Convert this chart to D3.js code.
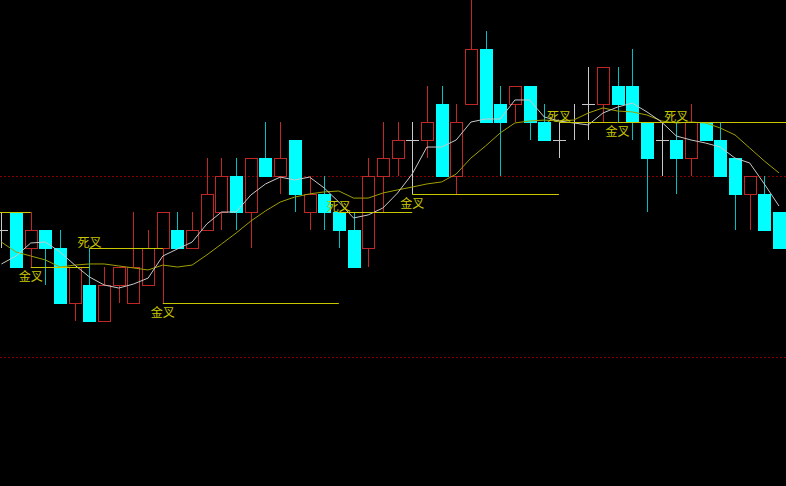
<!DOCTYPE html>
<html><head><meta charset="utf-8">
<script src="https://cdn.jsdelivr.net/npm/d3@7"></script>
<style>html,body{margin:0;padding:0;background:#000;overflow:hidden}</style>
</head><body><svg id="c" width="786" height="486"></svg>
<script>
// ---- data ----
const opens  = [27,28,26,27,26,23,24,22,24,23,24,26,27,26,27,28,30,28,31,30,32,28,29,28,27,26,30,31,32,32,34,30,34,37,34,34,35,33,32,33,34,34,35,35,33,32,32,31,33,32,31,29,29,28];
const closes = [27,25,27,26,23,25,22,24,25,25,26,28,26,27,29,30,28,31,30,31,29,29,28,27,25,30,31,32,32,33,30,33,37,33,33,35,33,32,32,33,34,36,34,33,31,32,31,33,32,30,29,30,27,26];
const highs  = [28,28,28,27,27,25,26,25,25,28,27,28,28,28,31,31,31,31,33,33,32,30,30,28,28,31,33,33,33,35,35,34,39.8,38,35,35,35,34,33,34,36,36,36,37,33,33,33,34,33,33,31,30,30,28];
const lows   = [26,25,25,24,23,22,22,22,23,23,24,23,26,26,27,27,27,26,30,29,28,27,27,26,25,25,28,30,29,31,30,29,34,33,30,33,32,32,31,32,32,33,33,32,28,30,29,30,32,30,27,27,27,26];
const ma5  = [25.14,25.58,26.30,26.35,25.80,25.08,24.42,23.98,23.81,24.03,24.36,25.58,25.97,26.35,27.35,28.01,28.01,28.95,29.56,29.94,29.78,29.94,29.34,28.56,27.68,27.85,28.23,29.06,30.11,31.60,31.60,31.99,32.98,33.15,33.15,34.20,34.20,33.26,33.04,32.93,32.82,33.48,33.81,34.03,33.54,32.98,32.21,31.99,31.82,31.60,30.99,30.72,29.56,28.34];
const ma10 = [26.35,25.80,25.58,25.36,24.97,25.08,25.14,25.14,25.03,24.92,24.81,25.08,24.97,25.08,25.64,26.24,26.85,27.51,28.07,28.56,28.84,29.01,29.12,29.17,28.78,28.78,29.06,29.23,29.39,29.56,29.67,30.11,30.99,31.66,32.38,32.93,33.04,33.09,33.04,33.09,33.48,33.76,33.59,33.54,33.37,33.04,32.93,32.98,32.93,32.65,32.27,31.55,30.83,30.17];
const crossIdx   = [-1, 2, 6, 11, 23, 28, 38, 42, 46];
const crossType  = ["死叉","金叉","死叉","金叉","死叉","金叉","死叉","金叉","死叉"];
const crossPrice = [28, 25, 26, 23, 28, 29, 33, 33, 33];
const refLevels  = [30, 20];

// ---- drawing ----
const W = 786, H = 486;
const x = d3.scaleLinear().domain([0, 53]).range([1.4, 779]);
const y = d3.scaleLinear().domain([20, 30]).range([357, 176]);
const svg = d3.select("#c");
svg.append("rect").attr("width", W).attr("height", H).attr("fill", "#000");

svg.selectAll("line.ref").data(refLevels).enter().append("line")
  .attr("class", "ref")
  .attr("x1", 0).attr("x2", W)
  .attr("y1", d => Math.round(y(d)) + 0.5).attr("y2", d => Math.round(y(d)) + 0.5)
  .attr("stroke", "#8a0000").attr("stroke-width", 1).attr("stroke-dasharray", "2,2");

const RED = "#c02828", CYAN = "#00ffff", CYANW = "#00c0c0", GRAY = "#c8c8c8";
const bw = 12;
const g = svg.append("g");
opens.forEach((o, i) => {
  const c = closes[i], hi = highs[i], lo = lows[i];
  const cx = Math.round(x(i)) + 0.5;
  const left = Math.round(x(i) - bw / 2);
  const yTop = Math.round(y(Math.max(o, c)));
  const yBot = Math.round(y(Math.min(o, c)));
  const yHi = Math.round(y(hi)), yLo = Math.round(y(lo));
  if (c > o) {
    if (yHi < yTop) g.append("line").attr("x1", cx).attr("x2", cx).attr("y1", yHi).attr("y2", yTop).attr("stroke", RED);
    if (yLo > yBot) g.append("line").attr("x1", cx).attr("x2", cx).attr("y1", yBot).attr("y2", yLo).attr("stroke", RED);
    g.append("rect").attr("x", left + 0.5).attr("y", yTop + 0.5).attr("width", bw).attr("height", yBot - yTop)
      .attr("fill", "none").attr("stroke", RED).attr("stroke-width", 1);
  } else if (c < o) {
    g.append("line").attr("x1", cx).attr("x2", cx).attr("y1", yHi).attr("y2", yLo).attr("stroke", CYANW);
    g.append("rect").attr("x", left).attr("y", yTop).attr("width", bw + 1).attr("height", yBot - yTop + 1)
      .attr("fill", CYAN).attr("stroke", "none");
  } else {
    g.append("line").attr("x1", cx).attr("x2", cx).attr("y1", yHi).attr("y2", yLo).attr("stroke", GRAY);
    g.append("line").attr("x1", left).attr("x2", left + bw + 1).attr("y1", yTop + 0.5).attr("y2", yTop + 0.5).attr("stroke", GRAY);
  }
});

const line = d3.line().x((d, i) => x(i)).y(d => y(d));
svg.append("path").datum(ma10).attr("d", line).attr("fill", "none").attr("stroke", "#a0a000").attr("stroke-width", 1);
svg.append("path").datum(ma5).attr("d", line).attr("fill", "none").attr("stroke", GRAY).attr("stroke-width", 1);

// cross markers
crossIdx.forEach((ci, k) => {
  const yy = Math.round(y(crossPrice[k])) + 0.5;
  const x1 = Math.max(0, x(ci));
  const x2 = k + 1 < crossIdx.length ? x(crossIdx[k + 1]) : W;
  svg.append("line").attr("x1", x1).attr("x2", x2).attr("y1", yy).attr("y2", yy)
    .attr("stroke", "#c8c800").attr("stroke-width", 1);
  if (x(ci) < 0) return; // cross lies before the visible range; its label is off-chart
  const golden = crossType[k] === "金叉";
  svg.append("text").attr("x", x(ci)).attr("y", golden ? yy + 13 : yy - 2)
    .attr("text-anchor", "middle")
    .attr("font-family", "'Noto Sans CJK SC', sans-serif").attr("font-size", 12)
    .attr("fill", "#c8c800").text(crossType[k]);
});
</script></body></html>
